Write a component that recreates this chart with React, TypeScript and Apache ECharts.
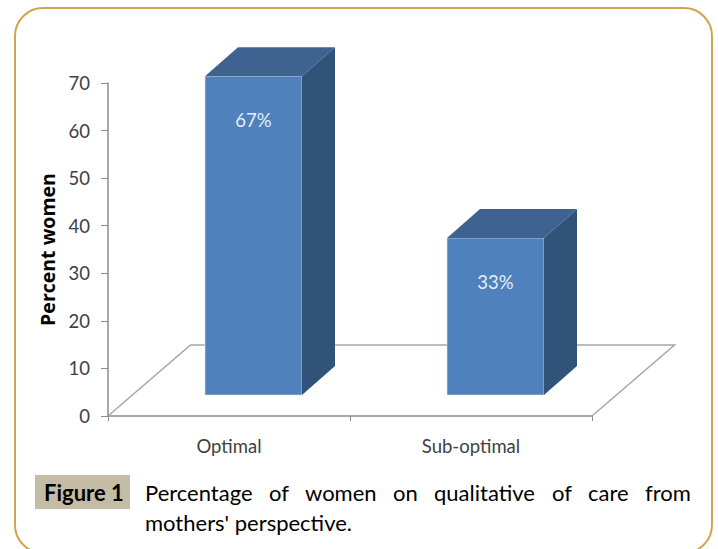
import React, { useEffect, useRef } from "react";
import * as echarts from "echarts";

const categories = ["Optimal", "Sub-optimal"];
const values = [67, 33];
const yTicks = { min: 0, max: 70, interval: 10 };
const yTitle = "Percent women";
const captionTag = "Figure 1";
const captionLine1: [string, number][] = [
  ["Percentage", 145], ["of", 269], ["women", 305], ["on", 393],
  ["qualitative", 434], ["of", 552], ["care", 588], ["from", 645],
];
const captionLine2 = "mothers' perspective.";

const FONT = "Lato, Carlito, 'Open Sans', sans-serif";
const DEPTH_X = 33, DEPTH_Y = 29, BAR_W = 97, LIFT = 21, SHIFT = 24.5;

export default function App() {
  const ref = useRef<HTMLDivElement>(null);
  useEffect(() => {
    const chart = echarts.init(ref.current!, undefined, { renderer: "svg" });
    const axisGrey = "#8c8c8c";
    chart.setOption({
      animation: false,
      backgroundColor: "#ffffff",
      grid: { left: 108, top: 83, width: 484, height: 333 },
      xAxis: {
        type: "category",
        data: categories,
        axisLine: { lineStyle: { color: axisGrey, width: 1.5 } },
        axisTick: { show: true, alignWithLabel: false, length: 5, lineStyle: { color: axisGrey } },
        axisLabel: { color: "#404040", fontFamily: FONT, fontSize: 18.5, margin: 20 },
      },
      yAxis: {
        type: "value",
        min: yTicks.min, max: yTicks.max, interval: yTicks.interval,
        name: yTitle,
        nameLocation: "middle",
        nameGap: 50,
        nameTextStyle: { color: "#000000", fontFamily: "'Open Sans', sans-serif", fontSize: 19.5, fontWeight: "bold" },
        splitLine: { show: false },
        axisLine: { show: true, lineStyle: { color: axisGrey, width: 1.5 } },
        axisTick: { show: true, length: 7, lineStyle: { color: axisGrey } },
        axisLabel: { color: "#404040", fontFamily: FONT, fontSize: 18.5, margin: 18 },
      },
      series: [
        {
          type: "custom",
          clip: false,
          z: 1,
          silent: true,
          data: [[0, 0]],
          renderItem: (_p: any, api: any) => {
            const a = api.coord([0, 0]);
            const b = api.coord([1, 0]);
            const band = b[0] - a[0];
            const x0 = a[0] - band / 2, x1 = b[0] + band / 2, y = a[1];
            const dx = 82.5, dy = 71;
            return {
              type: "polyline",
              shape: { points: [[x0, y], [x0 + dx, y - dy], [x1 + dx, y - dy], [x1, y]] },
              style: { stroke: "#a6a6a6", lineWidth: 1.5, fill: "none" },
            };
          },
        },
        {
          type: "custom",
          clip: false,
          z: 2,
          data: values.map((v, i) => [i, v]),
          renderItem: (_p: any, api: any) => {
            const i = api.value(0);
            const v = api.value(1);
            const top = api.coord([i, v]);
            const base = api.coord([i, 0]);
            const l = top[0] + SHIFT - BAR_W / 2;
            const r = l + BAR_W;
            const yt = top[1] - LIFT;
            const yb = base[1] - LIFT;
            return {
              type: "group",
              children: [
                { type: "rect", shape: { x: l, y: yt, width: BAR_W, height: yb - yt },
                  style: { fill: "#4f81bd", stroke: "#dce6f2", lineWidth: 0.6 } },
                { type: "polygon", shape: { points: [[l, yt], [l + DEPTH_X, yt - DEPTH_Y], [r + DEPTH_X, yt - DEPTH_Y], [r, yt]] },
                  style: { fill: "#3e6390" } },
                { type: "polygon", shape: { points: [[r, yt], [r + DEPTH_X, yt - DEPTH_Y], [r + DEPTH_X, yb - DEPTH_Y], [r, yb]] },
                  style: { fill: "#325379" } },
                { type: "text", x: l + BAR_W / 2, y: yt + 44,
                  style: { text: v + "%", fill: "#e6edf6", font: `18.5px ${FONT}`, align: "center", verticalAlign: "middle" } },
              ],
            };
          },
        },
      ],
      graphic: [
        { type: "rect", z: 10, shape: { x: 15, y: 8, width: 697, height: 545, r: 28 },
          style: { fill: "none", stroke: "#cfa64f", lineWidth: 2 } },
        { type: "rect", z: 10, shape: { x: 35, y: 475, width: 95, height: 34 }, style: { fill: "#c4bca5" } },
        { type: "text", z: 11, x: 44, y: 492,
          style: { text: captionTag, fill: "#000000", font: `bold 22px ${FONT}`, verticalAlign: "middle" } },
        ...captionLine1.map(([w, x]) => ({
          type: "text", z: 11, x, y: 492,
          style: { text: w, fill: "#000000", font: `22px ${FONT}`, verticalAlign: "middle" },
        })),
        { type: "text", z: 11, x: 145, y: 522,
          style: { text: captionLine2, fill: "#000000", font: `22px ${FONT}`, verticalAlign: "middle" } },
      ],
    });
    return () => chart.dispose();
  }, []);
  return <div ref={ref} style={{ position: "absolute", left: 0, top: 0, width: 718, height: 549 }} />;
}
